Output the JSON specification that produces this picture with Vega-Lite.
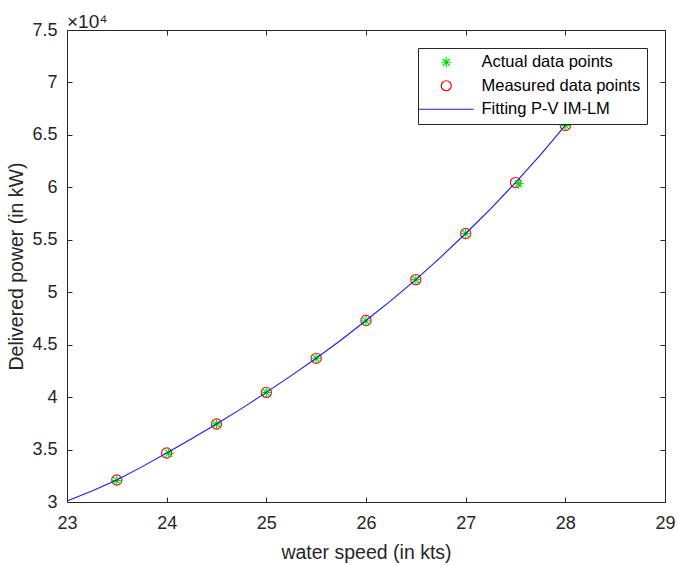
{
  "$schema": "https://vega.github.io/schema/vega-lite/v6.json",
  "width": 598,
  "height": 472,
  "autosize": {"type": "none"},
  "padding": {"left": 67, "top": 30, "right": 13, "bottom": 63},
  "background": "white",
  "title": {"text": "×10⁴", "anchor": "start", "frame": "group", "fontSize": 19, "fontWeight": "normal", "font": "Liberation Sans", "color": "#262626", "offset": 6, "dy": 17},
  "config": {
    "view": {"stroke": null},
    "font": "Liberation Sans",
    "axis": {"grid": false, "domainColor": "#262626", "tickColor": "#262626", "labelColor": "#262626", "titleColor": "#262626", "labelFontSize": 18, "titleFontSize": 19.5, "titleFontWeight": "normal", "tickSize": -5, "domainWidth": 1, "tickWidth": 1, "labelFlush": false},
    "legend": {"orient": "top-right", "offset": 18, "fillColor": "white", "strokeColor": "#262626", "padding": 6, "labelFontSize": 16.5, "labelColor": "#000000", "symbolStrokeWidth": 1.2, "symbolOffset": 14, "labelOffset": 27, "rowPadding": 6.5, "title": null}
  },
  "layer": [
    {
      "data": {"values": [
        {"speed": 23.5, "power": 32100, "series": "Measured data points"},
        {"speed": 24.0, "power": 34670, "series": "Measured data points"},
        {"speed": 24.5, "power": 37440, "series": "Measured data points"},
        {"speed": 25.0, "power": 40450, "series": "Measured data points"},
        {"speed": 25.5, "power": 43700, "series": "Measured data points"},
        {"speed": 26.0, "power": 47300, "series": "Measured data points"},
        {"speed": 26.5, "power": 51200, "series": "Measured data points"},
        {"speed": 27.0, "power": 55600, "series": "Measured data points"},
        {"speed": 27.5, "power": 60450, "series": "Measured data points"},
        {"speed": 28.0, "power": 65900, "series": "Measured data points"},
        {"speed": 23.5, "power": 32050, "series": "Actual data points"},
        {"speed": 24.02, "power": 34650, "series": "Actual data points"},
        {"speed": 24.5, "power": 37450, "series": "Actual data points"},
        {"speed": 25.0, "power": 40450, "series": "Actual data points"},
        {"speed": 25.5, "power": 43700, "series": "Actual data points"},
        {"speed": 26.0, "power": 47250, "series": "Actual data points"},
        {"speed": 26.5, "power": 51200, "series": "Actual data points"},
        {"speed": 27.0, "power": 55600, "series": "Actual data points"},
        {"speed": 27.53, "power": 60350, "series": "Actual data points"},
        {"speed": 28.0, "power": 65900, "series": "Actual data points"}
      ]},
      "mark": {"type": "point", "filled": false, "strokeWidth": 1.1, "opacity": 1, "size": 105},
      "encoding": {
        "x": {"field": "speed", "type": "quantitative", "scale": {"domain": [23, 29], "nice": false, "zero": false},
              "axis": {"orient": "bottom", "title": "water speed (in kts)", "values": [23, 24, 25, 26, 27, 28, 29], "labelPadding": 17.5, "titlePadding": 11}},
        "y": {"field": "power", "type": "quantitative", "scale": {"domain": [30000, 75000], "nice": false, "zero": false},
              "axis": {"orient": "left", "title": "Delivered power (in kW)", "values": [30000, 35000, 40000, 45000, 50000, 55000, 60000, 65000, 70000, 75000], "labelExpr": "format(datum.value/10000, '.1~f')", "labelPadding": 15, "titlePadding": 5}},
        "color": {"field": "series", "type": "nominal", "scale": {"domain": ["Actual data points", "Measured data points", "Fitting P-V IM-LM"], "range": ["#00e000", "#ff0000", "#1a1ae6"]}},
        "shape": {"field": "series", "type": "nominal", "scale": {"domain": ["Actual data points", "Measured data points", "Fitting P-V IM-LM"], "range": ["M0,-1L0,1M-1,0L1,0M-0.7,-0.7L0.7,0.7M-0.7,0.7L0.7,-0.7", "circle", "M-5.5,0L5.5,0"]}},
        "order": {"field": "series", "sort": "descending"}
      }
    },
    {
      "data": {"values": [
        {"speed": 23.0, "power": 30100, "series": "Fitting P-V IM-LM"},
        {"speed": 23.25, "power": 31050, "series": "Fitting P-V IM-LM"},
        {"speed": 23.5, "power": 32100, "series": "Fitting P-V IM-LM"},
        {"speed": 23.75, "power": 33350, "series": "Fitting P-V IM-LM"},
        {"speed": 24.0, "power": 34670, "series": "Fitting P-V IM-LM"},
        {"speed": 24.25, "power": 36030, "series": "Fitting P-V IM-LM"},
        {"speed": 24.5, "power": 37440, "series": "Fitting P-V IM-LM"},
        {"speed": 24.75, "power": 38900, "series": "Fitting P-V IM-LM"},
        {"speed": 25.0, "power": 40450, "series": "Fitting P-V IM-LM"},
        {"speed": 25.25, "power": 42050, "series": "Fitting P-V IM-LM"},
        {"speed": 25.5, "power": 43700, "series": "Fitting P-V IM-LM"},
        {"speed": 25.75, "power": 45450, "series": "Fitting P-V IM-LM"},
        {"speed": 26.0, "power": 47300, "series": "Fitting P-V IM-LM"},
        {"speed": 26.25, "power": 49200, "series": "Fitting P-V IM-LM"},
        {"speed": 26.5, "power": 51200, "series": "Fitting P-V IM-LM"},
        {"speed": 26.75, "power": 53350, "series": "Fitting P-V IM-LM"},
        {"speed": 27.0, "power": 55600, "series": "Fitting P-V IM-LM"},
        {"speed": 27.25, "power": 57950, "series": "Fitting P-V IM-LM"},
        {"speed": 27.5, "power": 60450, "series": "Fitting P-V IM-LM"},
        {"speed": 27.75, "power": 63100, "series": "Fitting P-V IM-LM"},
        {"speed": 28.0, "power": 65900, "series": "Fitting P-V IM-LM"},
        {"speed": 28.1, "power": 67050, "series": "Fitting P-V IM-LM"}
      ]},
      "mark": {"type": "line", "strokeWidth": 1.1},
      "encoding": {
        "x": {"field": "speed", "type": "quantitative", "axis": {"orient": "top", "title": null, "labels": false, "values": [23, 24, 25, 26, 27, 28, 29]}},
        "y": {"field": "power", "type": "quantitative", "axis": {"orient": "right", "title": null, "labels": false, "values": [30000, 35000, 40000, 45000, 50000, 55000, 60000, 65000, 70000, 75000]}},
        "color": {"field": "series", "type": "nominal"}
      }
    }
  ],
  "resolve": {"axis": {"x": "independent", "y": "independent"}}
}
